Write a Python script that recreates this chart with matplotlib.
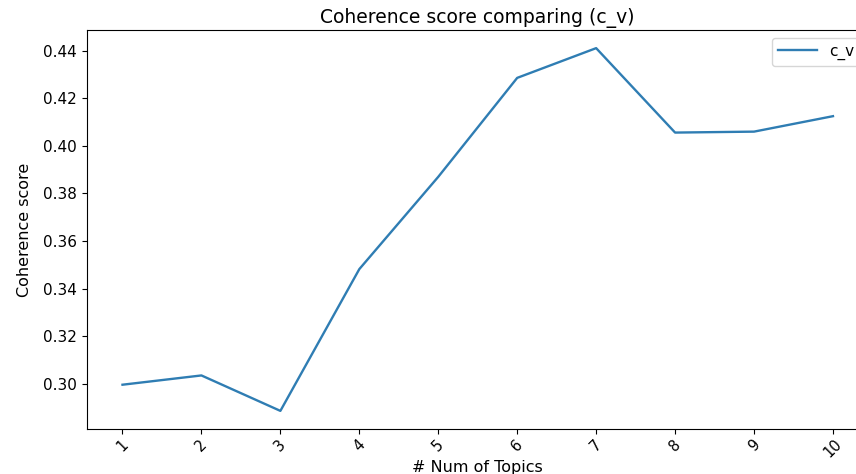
import matplotlib
matplotlib.use("Agg")
import matplotlib.pyplot as plt

num_topics = [1, 2, 3, 4, 5, 6, 7, 8, 9, 10]
coherence_cv = [0.2996, 0.3035, 0.2886, 0.3482, 0.3870, 0.4286, 0.4411, 0.4056, 0.4060, 0.4125]

fig = plt.figure(figsize=(8.56, 4.74), dpi=100)
# the reference is cropped on the right, so the axes run past the figure edge
ax = fig.add_axes([0.1016, 0.0949, 0.913, 0.8418])

ax.plot(num_topics, coherence_cv, color="#2f7db3", linewidth=1.7, label="c_v")
ax.set_xticks(num_topics)
ax.set_xticklabels([str(n) for n in num_topics], rotation=45, fontsize=10.5)
ax.tick_params(axis="x", pad=2)
ax.tick_params(axis="y", labelsize=11)
ax.set_yticks([0.30, 0.32, 0.34, 0.36, 0.38, 0.40, 0.42, 0.44])
ax.spines["right"].set_visible(False)
ax.set_title("Coherence score comparing (c_v)", fontsize=13.5, pad=5)
ax.set_xlabel("# Num of Topics", fontsize=11.5, labelpad=0)
ax.set_ylabel("Coherence score", fontsize=11.5,
              family=["Liberation Sans Narrow", "DejaVu Sans"], labelpad=8)
ax.legend(loc="upper right", fontsize=11, handlelength=2.6)

fig.savefig("out.png", dpi=100)
